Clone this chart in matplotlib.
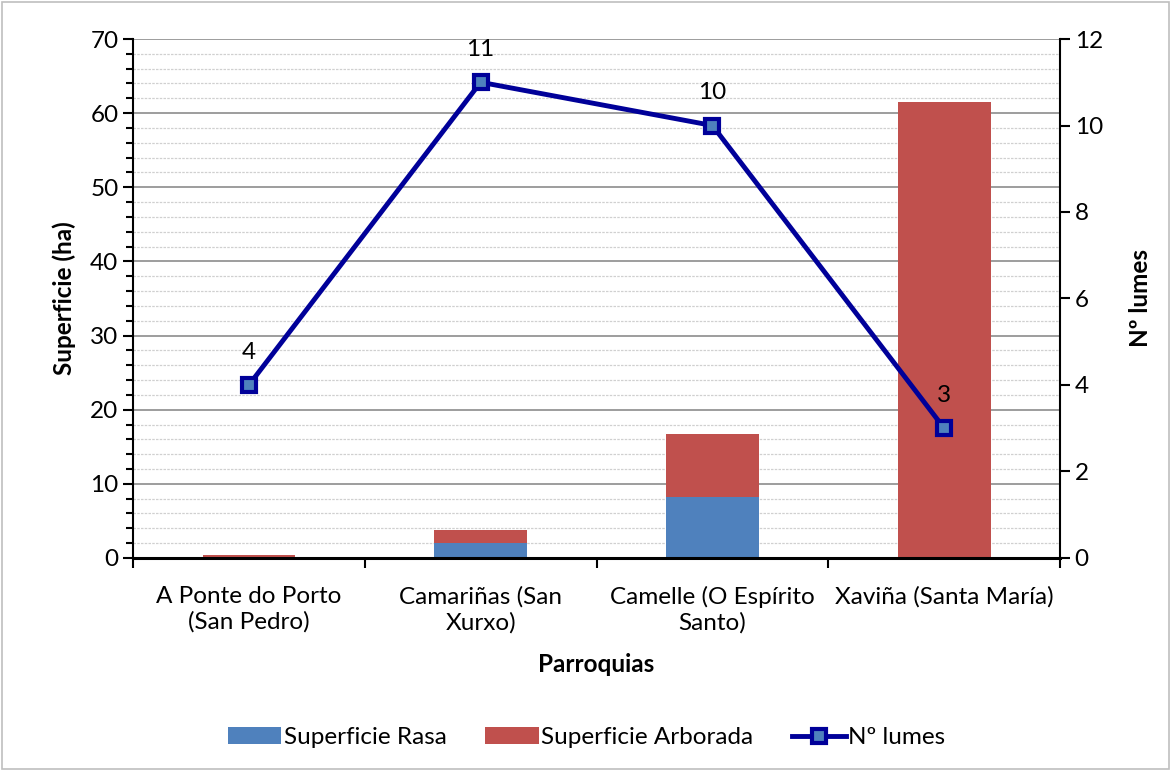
import matplotlib.pyplot as plt
import numpy as np
from matplotlib.patches import Rectangle
from matplotlib.ticker import MultipleLocator

plt.rcParams["font.family"] = ["Lato", "DejaVu Sans"]

categories = ["A Ponte do Porto\n(San Pedro)", "Camariñas (San\nXurxo)",
              "Camelle (O Espírito\nSanto)", "Xaviña (Santa María)"]
sup_rasa = [0.0, 2.0, 8.2, 0.0]
sup_arborada = [0.4, 1.8, 8.5, 61.5]
n_lumes = [4, 11, 10, 3]

FS = 17.5

fig = plt.figure(figsize=(11.73, 7.71), dpi=100)
ax = fig.add_axes([0.1134, 0.2763, 0.7903, 0.6731])
x = np.arange(len(categories))

ax.bar(x, sup_rasa, width=0.4, color="#4F81BD", label="Superficie Rasa", zorder=2)
ax.bar(x, sup_arborada, width=0.4, bottom=sup_rasa, color="#C0504D",
       label="Superficie Arborada", zorder=2)

ax.set_xlim(-0.5, len(categories) - 0.5)
ax.set_ylim(0, 70)
ax.yaxis.set_major_locator(MultipleLocator(10))
ax.yaxis.set_minor_locator(MultipleLocator(2))
ax.grid(axis="y", which="major", color="#8c8c8c", linewidth=1.2, zorder=0)
ax.grid(axis="y", which="minor", color="#d0d0d0", linewidth=0.9, linestyle=(0, (2, 1)), zorder=0)
ax.set_axisbelow(True)

ax.set_xticks(x)
ax.set_xticklabels(categories, fontsize=FS, linespacing=1.25)
ax.tick_params(axis="x", which="major", length=0, pad=20)
ax.set_xticks(np.arange(len(categories) + 1) - 0.5, minor=True)
ax.tick_params(axis="x", which="minor", length=7, width=1.5, direction="out")
ax.tick_params(axis="y", which="major", length=7, width=1.5, labelsize=FS)
ax.tick_params(axis="y", which="minor", length=5, width=1.5)

for side in ["top", "right"]:
    ax.spines[side].set_visible(False)
ax.spines["left"].set_linewidth(1.5)
ax.spines["bottom"].set_linewidth(2.2)

ax.set_ylabel("Superficie (ha)", fontsize=FS, fontweight="bold", labelpad=10)
ax.set_xlabel("Parroquias", fontsize=FS, fontweight="bold", labelpad=14)

ax2 = ax.twinx()
ax2.plot(x, n_lumes, color="#000099", linewidth=3.5, marker="s", markersize=10,
         markerfacecolor="#4F81BD", markeredgecolor="#000099", markeredgewidth=3,
         label="Nº lumes", zorder=3)
for xi, v in zip(x, n_lumes):
    ax2.annotate(str(v), (xi, v), xytext=(0, 16), textcoords="offset points",
                 ha="center", va="bottom", fontsize=FS)
ax2.set_ylim(0, 12)
ax2.yaxis.set_major_locator(MultipleLocator(2))
ax2.tick_params(axis="y", length=7, width=1.5, labelsize=FS)
for side in ["top", "left", "bottom"]:
    ax2.spines[side].set_visible(False)
ax2.spines["right"].set_linewidth(1.5)
ax2.set_ylabel("Nº lumes", fontsize=FS, fontweight="bold", labelpad=19)

h1, l1 = ax.get_legend_handles_labels()
h2, l2 = ax2.get_legend_handles_labels()
fig.legend(h1 + h2, l1 + l2, loc="center", bbox_to_anchor=(0.5, 0.043), ncol=3,
           frameon=False, fontsize=FS, handlelength=2.2, handletextpad=0.1,
           columnspacing=1.6)

fig.add_artist(Rectangle((0.002, 0.002), 0.995, 0.995, transform=fig.transFigure,
                         fill=False, edgecolor="#bfbfbf", linewidth=1.2))

fig.savefig("out.png", dpi=100)
plt.close(fig)
